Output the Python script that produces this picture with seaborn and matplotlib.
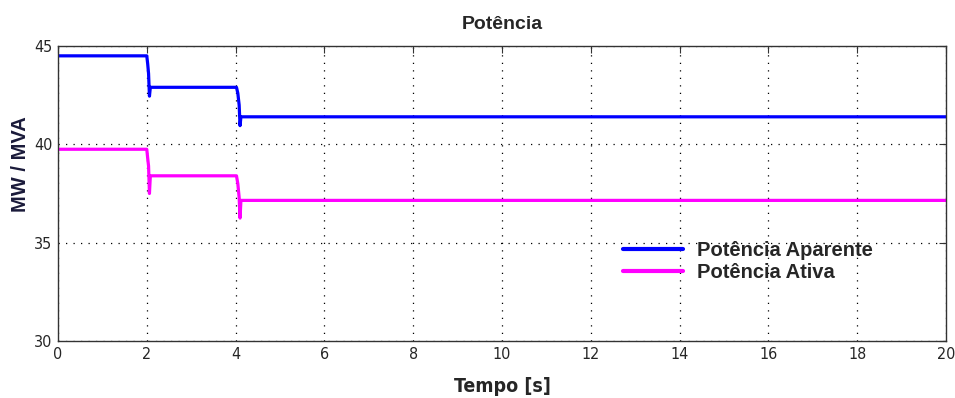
import matplotlib
matplotlib.use('Agg')
import matplotlib.pyplot as plt
import numpy as np
import pandas as pd
import seaborn as sns

# time points (s) and values
tempo = [0.0, 2.0, 2.02, 2.04, 2.06, 2.08, 4.02, 4.05, 4.08, 4.10, 4.12, 20.0]
aparente = [44.5, 44.5, 44.1, 43.6, 42.45, 42.9, 42.9, 42.6, 42.0, 40.95, 41.4, 41.4]
ativa = [39.75, 39.75, 39.3, 38.9, 37.5, 38.4, 38.4, 38.0, 37.3, 36.25, 37.15, 37.15]
series = ['Potência Aparente', 'Potência Ativa']
cores = ['#0000FF', '#FF00FF']

x_ticks = list(range(0, 21, 2))
y_ticks = [30, 35, 40, 45]

sns.set_style('white')
plt.rcParams['font.family'] = ['DejaVu Sans', 'Liberation Sans']
plt.rcParams['font.stretch'] = 'condensed'

df = pd.DataFrame({
    'Tempo': tempo * 2,
    'Valor': aparente + ativa,
    'Serie': [series[0]] * len(tempo) + [series[1]] * len(tempo),
})

fig = plt.figure(figsize=(9.55, 3.98), dpi=100)
ax = fig.add_axes([0.0607, 0.1432, 0.930, 0.7412])
sns.lineplot(data=df, x='Tempo', y='Valor', hue='Serie', palette=cores,
             estimator=None, sort=False, linewidth=2.3, ax=ax)

ax.set_xlim(0, 20)
ax.set_ylim(30, 45)
ax.set_xticks(x_ticks)
ax.set_yticks(y_ticks)
ax.grid(True, color='black', linestyle=(0, (1, 5)), linewidth=0.9)
ax.tick_params(direction='in', length=5, labelsize=11.5, color='#333333',
               top=True, right=True, pad=4)
for s in ax.spines.values():
    s.set_color('#333333')
    s.set_linewidth(1.0)

ax.set_title('Potência', fontsize=14, fontweight='bold', family='Liberation Sans', pad=12)
ax.set_xlabel('Tempo [s]', fontsize=14, fontweight='bold', labelpad=11)
ax.set_ylabel('MW / MVA', fontsize=14.5, fontweight='bold', family='Liberation Sans',
              color='#1a1a3a')
ax.yaxis.set_label_coords(-0.032, 0.60)

leg = ax.legend(loc='upper left', bbox_to_anchor=(0.636, 0.34), frameon=False,
                borderaxespad=0, borderpad=0,
                prop={'family': 'Liberation Sans', 'weight': 'bold', 'size': 14.5},
                handlelength=3.0, handletextpad=0.7, labelspacing=0.15)
for line in leg.get_lines():
    line.set_linewidth(3)

fig.savefig('out.png', dpi=100)
